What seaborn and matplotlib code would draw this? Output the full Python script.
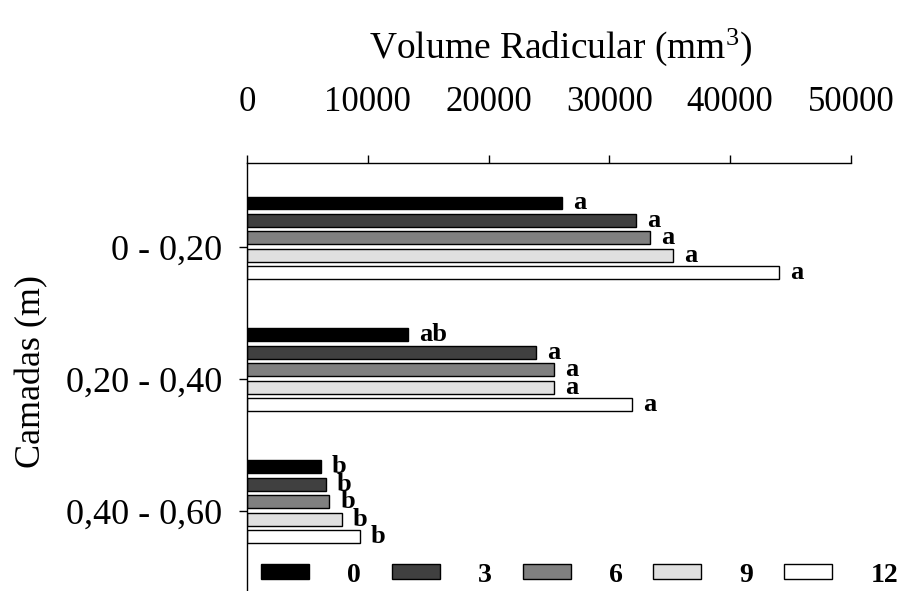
import matplotlib
matplotlib.use("Agg")
import matplotlib.pyplot as plt
import seaborn as sns
import pandas as pd

# ---- data ----
camadas = ["0 - 0,20", "0,20 - 0,40", "0,40 - 0,60"]
doses = ["0", "3", "6", "9", "12"]
vol_0 = [26100, 13300, 6100]
vol_3 = [32200, 23900, 6500]
vol_6 = [33350, 25400, 6800]
vol_9 = [35250, 25400, 7850]
vol_12 = [44050, 31900, 9350]
letras_0 = ["a", "ab", "b"]
letras_3 = ["a", "a", "b"]
letras_6 = ["a", "a", "b"]
letras_9 = ["a", "a", "b"]
letras_12 = ["a", "a", "b"]
x_ticks = [0, 10000, 20000, 30000, 40000, 50000]

series = [vol_0, vol_3, vol_6, vol_9, vol_12]
letras = [letras_0, letras_3, letras_6, letras_9, letras_12]
colors = ["#000000", "#404040", "#808080", "#e0e0e0", "#ffffff"]

rows = []
for d, vals in zip(doses, series):
    for c, v in zip(camadas, vals):
        rows.append({"Camada": c, "Dose": d, "Volume": v})
df = pd.DataFrame(rows)

sns.set_style("white")
plt.rcParams["font.family"] = ["Liberation Serif", "DejaVu Serif"]
plt.rcParams["mathtext.fontset"] = "custom"
plt.rcParams["mathtext.rm"] = "Liberation Serif"
plt.rcParams["mathtext.it"] = "Liberation Serif:italic"
plt.rcParams["mathtext.bf"] = "Liberation Serif:bold"
plt.rcParams["text.color"] = "black"
plt.rcParams["axes.labelcolor"] = "black"
plt.rcParams["xtick.color"] = "black"
plt.rcParams["ytick.color"] = "black"

fig = plt.figure(figsize=(9.01, 5.91), dpi=100)
ax = fig.add_axes([247 / 901, 0.0, (851 - 247) / 901, 1 - 163 / 591])

sns.barplot(data=df, y="Camada", x="Volume", hue="Dose", order=camadas,
            hue_order=doses, orient="h", palette=dict(zip(doses, colors)),
            saturation=1, width=0.66, gap=0.26, edgecolor="black",
            linewidth=1.0, ax=ax, errorbar=None)

for cont, labs in zip(ax.containers, letras):
    ax.bar_label(cont, labels=labs, padding=8, fontsize=19, fontweight="bold",
                 color="black")

ax.set_xlim(0, 50000)
ax.set_ylim(2.677, -0.567)
ax.set_xticks(x_ticks)
ax.set_xticklabels([str(t) for t in x_ticks])
ax.set_yticks([0.07, 1.07, 2.07])
ax.set_yticklabels(camadas)

ax.xaxis.tick_top()
ax.xaxis.set_label_position("top")
ax.tick_params(axis="x", direction="out", length=6, width=1, pad=26,
               labelsize=25, colors="black", top=True, bottom=False)
ax.tick_params(axis="y", direction="out", length=6, width=1, pad=12,
               labelsize=26, colors="black", left=True)

for s in ["right", "bottom"]:
    ax.spines[s].set_visible(False)
for s in ["top", "left"]:
    ax.spines[s].set_visible(True)
    ax.spines[s].set_color("black")
    ax.spines[s].set_linewidth(1.0)

ax.set_xlabel(r"Volume Radicular (mm$^{\mathrm{3}}$)", fontsize=27, color="black")
ax.xaxis.set_label_coords((561 - 247) / 604, 1 + (163 - 45) / 428 - 0.03)
ax.set_ylabel("Camadas (m)", fontsize=26, color="black")
ax.yaxis.set_label_coords(-(247 - 48) / 604, (591 - 372) / 428)

handles, labels = ax.get_legend_handles_labels()
if ax.get_legend() is not None:
    ax.get_legend().remove()
leg = fig.legend(handles, labels, ncol=5, loc="center left",
                 bbox_to_anchor=(261 / 901, 1 - 575 / 591), bbox_transform=fig.transFigure,
                 frameon=False, prop={"size": 20, "weight": "bold"},
                 handlelength=1.73, handleheight=0.47, handletextpad=1.37,
                 columnspacing=1.11, borderpad=0, borderaxespad=0)
for t in leg.get_texts():
    t.set_color("black")

fig.savefig("out.png", dpi=100)
